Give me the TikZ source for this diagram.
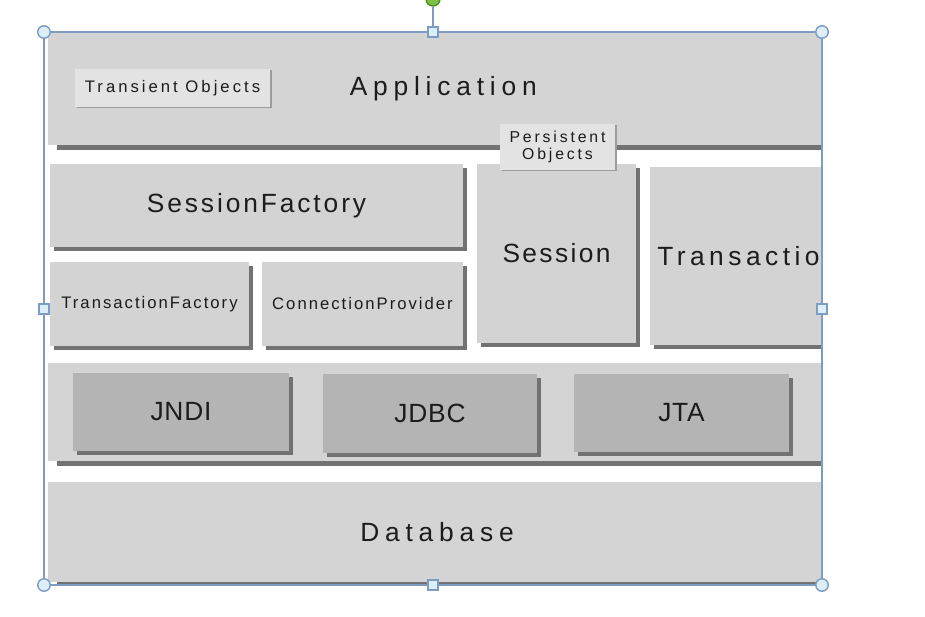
\documentclass[tikz,border=0pt]{standalone}
\usepackage{fontspec}
\usepackage{xcolor}
\setmainfont{Liberation Sans}
\newfontfamily\diagfont{Liberation Sans}
\usetikzlibrary{shadows}
\definecolor{LayerGray}{HTML}{D4D4D4}
\definecolor{InnerGray}{HTML}{D3D3D3}
\definecolor{ApiGray}{HTML}{B4B4B4}
\definecolor{LabelGray}{HTML}{E3E3E3}
\definecolor{ShadowGray}{HTML}{727272}
\definecolor{TextBlack}{HTML}{1C1C1C}
\definecolor{SelectBlue}{HTML}{7C9CC4}
\definecolor{HandleBlue}{HTML}{DCEEF8}
\definecolor{HandleGreen}{HTML}{7CC242}
\definecolor{HandleGreenDark}{HTML}{4E8F2A}
% text sizes (optional argument: letter spacing)
\newcommand{\bigtext}[1][11]{\diagfont\addfontfeatures{LetterSpace=#1}\fontsize{15}{18}\selectfont}
\newcommand{\smalltext}[1][12]{\diagfont\addfontfeatures{LetterSpace=#1}\fontsize{9.5}{11}\selectfont}
\tikzset{
    % Base box style
    basebox/.style={
        rectangle,
        inner sep=0pt,
        text=TextBlack,
        align=center
    },
    % Full width layer
    layerbox/.style={
        basebox,
        fill=LayerGray,
        minimum width=15.56cm,
        drop shadow={shadow xshift=5pt, shadow yshift=-2.6pt, fill=ShadowGray, opacity=1}
    },
    % Component box
    compbox/.style={
        basebox,
        fill=InnerGray,
        font=\bigtext,
        drop shadow={shadow xshift=2.2pt, shadow yshift=-2.2pt, fill=ShadowGray, opacity=1}
    },
    % Small component box
    smallcomp/.style={
        compbox,
        font=\smalltext,
        minimum width=4cm,
        minimum height=1.68cm
    },
    % API box in the lower layer
    apibox/.style={
        compbox,
        fill=ApiGray,
        font={\bigtext[3]},
        minimum width=4.3cm,
        minimum height=1.57cm
    },
    % Object label
    labelbox/.style={
        basebox,
        fill=LabelGray,
        drop shadow={shadow xshift=1.2pt, shadow yshift=-0.8pt, fill=ShadowGray!70, opacity=1}
    },
    % Selection frame
    selectline/.style={
        draw=SelectBlue,
        line width=1.1pt
    },
    cornerhandle/.style={
        circle,
        draw=SelectBlue,
        fill=HandleBlue,
        line width=0.8pt,
        minimum size=0.25cm,
        inner sep=0pt
    },
    sidehandle/.style={
        rectangle,
        draw=SelectBlue,
        fill=HandleBlue,
        line width=0.8pt,
        minimum size=0.2cm,
        inner sep=0pt
    },
    rotatehandle/.style={
        circle,
        draw=HandleGreenDark,
        fill=HandleGreen,
        line width=0.8pt,
        minimum size=0.28cm,
        inner sep=0pt
    }
}

\begin{document}
\begin{tikzpicture}[x=0.02cm, y=-0.02cm]
    \useasboundingbox (0,0) rectangle (925,616);

    \begin{scope}
        \clip (44,32) rectangle (822,585);
        % Layers
        \node[layerbox, minimum height=2.24cm, font={\bigtext[22]}] (app) at (437,89) {\hspace{0.25cm}Application};
        \node[layerbox, minimum height=1.96cm] (api) at (437,412) {};
        \node[layerbox, minimum height=2cm, font={\bigtext[22]}] (db) at (437,532) {Database};

        % Middle components
        \node[compbox, minimum width=8.26cm, minimum height=1.66cm] (sf) at (256.5,205.5) {SessionFactory};
        \node[smallcomp, minimum width=3.98cm] (tf) at (149.5,304) {TransactionFactory};
        \node[smallcomp, minimum width=4.02cm] (cp) at (362.5,304) {ConnectionProvider};
        \node[compbox, minimum width=3.18cm, minimum height=3.58cm, font={\bigtext[9]}] (session) at (556.5,253.5) {Session};
        \node[compbox, minimum width=3.92cm, minimum height=3.58cm, font={\bigtext[17]}] (trans) at (748,256) {Transaction};

        % APIs
        \node[apibox, minimum width=4.32cm] (jndi) at (181,412) {JNDI};
        \node[apibox, minimum width=4.28cm] (jdbc) at (430,413.5) {JDBC};
        \node[apibox] (jta) at (681.5,413) {JTA};

        % Object labels
        \node[labelbox, minimum width=3.9cm, minimum height=0.76cm, font={\smalltext[18]}] (transient) at (172.5,88) {Transient Objects};
        \node[labelbox, minimum width=2.3cm, minimum height=0.92cm, font={\diagfont\addfontfeatures{LetterSpace=18}\fontsize{9}{9.6}\selectfont}] (persistent) at (557.5,147) {Persistent\\Objects};
    \end{scope}

    % Selection frame and handles
    \coordinate (nw) at (44,32);
    \coordinate (se) at (822,585);
    \draw[selectline] (nw) rectangle (se);
    \node[sidehandle] (hn) at (433,32) {};
    \node[rotatehandle] (rot) at (433,-1) {};
    \draw[selectline] (rot) -- (hn);
    \node[sidehandle] (hs) at (433,585) {};
    \node[sidehandle] (hw) at (44,309) {};
    \node[sidehandle] (he) at (822,309) {};
    \node[cornerhandle] (hnw) at (nw) {};
    \node[cornerhandle] (hne) at (822,32) {};
    \node[cornerhandle] (hsw) at (44,585) {};
    \node[cornerhandle] (hse) at (se) {};
\end{tikzpicture}
\end{document}
